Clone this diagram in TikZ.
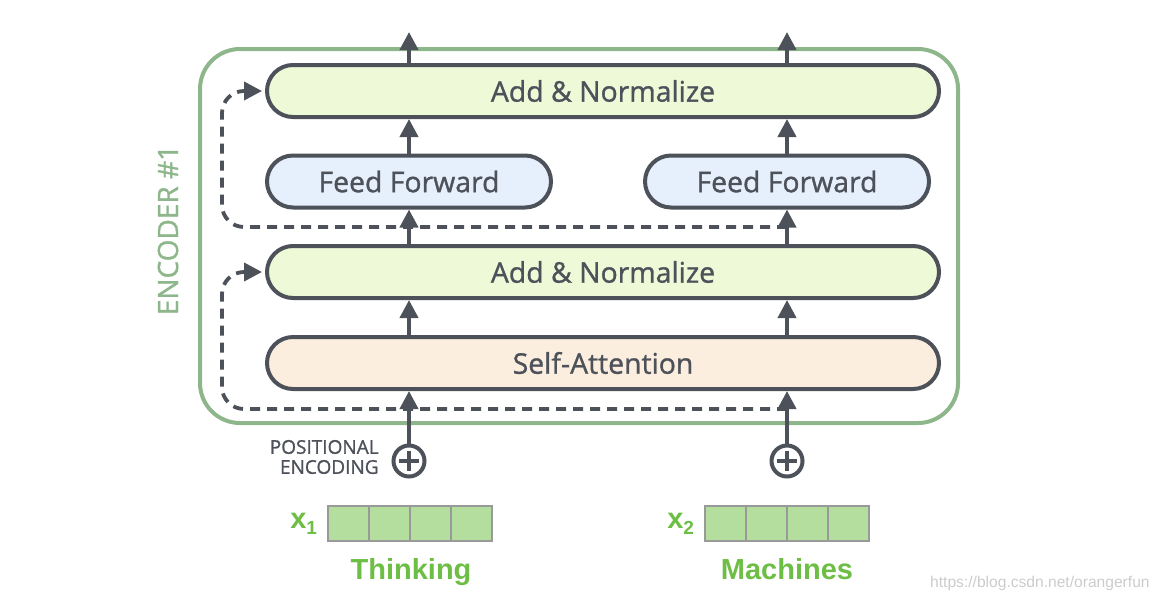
\documentclass[tikz,border=0pt]{standalone}
\usepackage{fontspec}
\setmainfont{Open Sans}
\newfontfamily\boxfont[FakeBold=1.1]{Open Sans}
\newfontfamily\wordfont{Liberation Sans}
\usetikzlibrary{arrows.meta,positioning}

\definecolor{darkgrey}{HTML}{4D5159}
\definecolor{encgreen}{HTML}{8DB68B}
\definecolor{normfill}{HTML}{EEF9D7}
\definecolor{ffwdfill}{HTML}{E6F0FC}
\definecolor{attnfill}{HTML}{FCEEDF}
\definecolor{cellfill}{HTML}{B4DE9E}
\definecolor{wordgreen}{HTML}{6DBE45}

\tikzstyle{block} = [draw=darkgrey, line width=2pt, rectangle, rounded corners=13pt, minimum height=26pt, inner sep=0pt, text=darkgrey, font=\boxfont\fontsize{14.2}{16}\selectfont]
\tikzstyle{wide} = [block, minimum width=336pt]
\tikzstyle{narrow} = [block, minimum width=142pt, fill=ffwdfill]
\tikzstyle{arrow} = [draw=darkgrey, line width=2pt, -{Triangle[width=9pt,length=9pt]}]
\tikzstyle{residual} = [arrow, line width=1.9pt, dash pattern=on 5pt off 3.5pt, rounded corners=11pt, shorten >=1.5pt]
\tikzstyle{adder} = [draw=darkgrey, line width=2pt, circle, minimum size=15.5pt, inner sep=0pt,
  path picture={\draw[darkgrey, line width=2pt] (path picture bounding box.center) +(-5pt,0) -- +(5pt,0)
    (path picture bounding box.center) +(0,-5pt) -- +(0,5pt);}]
\tikzstyle{cell} = [draw=gray!80, line width=0.6pt, fill=cellfill, minimum width=20.5pt, minimum height=17.5pt, inner sep=0pt]
\tikzstyle{word} = [text=wordgreen, font=\wordfont\bfseries\fontsize{14.5}{16}\selectfont, inner sep=0pt]

\begin{document}
\begin{tikzpicture}[x=0.5pt, y=-0.5pt]
  \useasboundingbox (0,0) rectangle (1159,611);

  \draw [encgreen, line width=2pt, rounded corners=20pt] (200,49) rectangle (958,423);
  \node [rotate=90, text=encgreen, font=\boxfont\fontsize{14}{16}\selectfont] (enc) at (168,230) {ENCODER \#1};

  \node [wide, fill=normfill] (norm2) at (603,91) {Add \& Normalize};
  \node [narrow] (ffwd1) at (409,181.5) {Feed Forward};
  \node [narrow] (ffwd2) at (787,181.5) {Feed Forward};
  \node [wide, fill=normfill] (norm1) at (603,272) {Add \& Normalize};
  \node [wide, fill=attnfill] (attn) at (603,363) {Self-Attention};

  \node [adder] (plus1) at (409,461) {};
  \node [adder] (plus2) at (787,461) {};
  \node [anchor=east, align=right, text=darkgrey, font=\boxfont\fontsize{9.5}{10}\selectfont, inner sep=0pt] (posenc) at (379,457) {POSITIONAL\\ENCODING};

  \foreach \i in {0,...,3} {
    \node [cell] (vecA\i) at (348.5+41*\i,523.5) {};
    \node [cell] (vecB\i) at (725.5+41*\i,523.5) {};
  }
  \node [word, left=5pt of vecA0] (xa) {x\raisebox{-0.4ex}{\fontsize{9.5}{10}\selectfont 1}};
  \node [word, left=5pt of vecB0] (xb) {x\raisebox{-0.4ex}{\fontsize{9.5}{10}\selectfont 2}};
  \node [word, anchor=base] (thinking) at (411,579) {Thinking};
  \node [word, anchor=base] (machines) at (787,579) {Machines};

  \coordinate (outA) at (409,32);
  \coordinate (outB) at (787,32);
  \coordinate (skipA) at (787,409);
  \coordinate (skipB) at (787,227);

  \foreach \p/\f in {plus1/ffwd1, plus2/ffwd2} {
    \draw [arrow] (\p.north) -- (\p.north |- attn.south);
    \draw [arrow] (attn.north -| \p) -- (norm1.south -| \p);
    \draw [arrow] (norm1.north -| \p) -- (\f.south);
    \draw [arrow] (\f.north) -- (norm2.south -| \f);
  }
  \draw [arrow] (norm2.north -| ffwd1) -- (outA);
  \draw [arrow] (norm2.north -| ffwd2) -- (outB);

  \draw [residual] (skipA) -| ([xshift=-21.5pt]norm1.west) -- (norm1.west);
  \draw [residual] (skipB) -| ([xshift=-21.5pt]norm2.west) -- (norm2.west);

  \node [anchor=east, text=gray!40, font=\wordfont\fontsize{7.8}{9}\selectfont, inner sep=0pt] (mark) at (1150,583) {https://blog.csdn.net/orangerfun};
\end{tikzpicture}
\end{document}
